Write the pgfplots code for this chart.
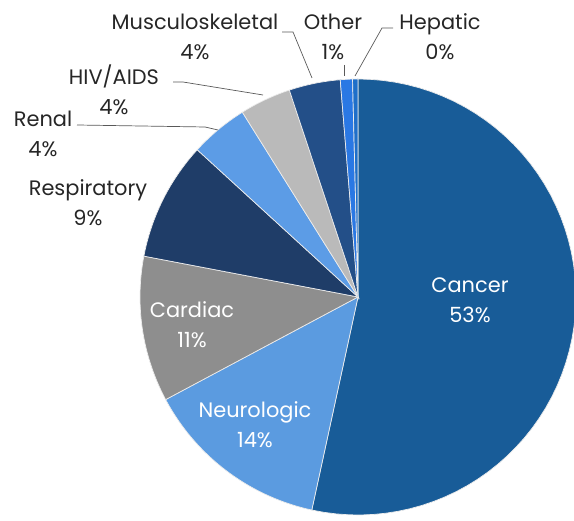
\documentclass[border=0pt]{standalone}
\usepackage{fontspec}
\setmainfont{Poppins}
\usepackage{pgfplots}
\usepackage{pgfplotstable}
\pgfplotsset{compat=1.18}

% slice shares in percent, clockwise from 12 o'clock
\pgfplotstableread{
label value
Cancer 53.4
Neurologic 13.8
Cardiac 10.8
Respiratory 8.8
Renal 4.3
HIV/AIDS 3.8
Musculoskeletal 3.8
Other 0.9
Hepatic 0.4
}\piedata

\definecolor{col0}{HTML}{185C98}
\definecolor{col1}{HTML}{5B9BE0}
\definecolor{col2}{HTML}{8E8E8E}
\definecolor{col3}{HTML}{1F3D68}
\definecolor{col4}{HTML}{5C9CE6}
\definecolor{col5}{HTML}{BABABA}
\definecolor{col6}{HTML}{234F88}
\definecolor{col7}{HTML}{2A78E4}
\definecolor{col8}{HTML}{1F6FC9}
\definecolor{txt}{HTML}{262626}
\definecolor{lead}{HTML}{595959}

% cumulative angles
\def\cum{90}
\pgfplotsforeachungrouped \i in {0,...,8}{%
  \pgfplotstablegetelem{\i}{value}\of\piedata
  \pgfmathsetmacro\newcum{\cum-3.6*\pgfplotsretval}%
  \expandafter\xdef\csname end\i\endcsname{\cum}%
  \expandafter\xdef\csname start\i\endcsname{\newcum}%
  \xdef\cum{\newcum}%
}

\begin{document}
\begin{tikzpicture}
\begin{axis}[
    scale only axis,
    width=574bp, height=521bp,
    xmin=-358, xmax=216, ymin=-224, ymax=297,
    hide axis, clip=false,
    font=\fontsize{21}{30}\selectfont,
]
\pgfplotsinvokeforeach{0,...,8}{
  \addplot[fill=col#1, draw=white!85!gray, line width=0.7pt, data cs=polar,
           domain=\csname start#1\endcsname:\csname end#1\endcsname, samples=60]
    (x,218) -- (axis cs:0,0) -- cycle;
}
% inside labels
\node[white, align=center] at (axis cs:112,-3) {Cancer\\53\%};
\node[white, align=center] at (axis cs:-166,-28) {Cardiac\\11\%};
\node[white, align=center] at (axis cs:-103,-128) {Neurologic\\14\%};
% outside labels
\node[txt, align=center] at (axis cs:-270,94) {Respiratory\\9\%};
\node[txt, align=center] at (axis cs:-315,163) {Renal\\4\%};
\node[txt, align=center] at (axis cs:-244,207) {HIV/AIDS\\4\%};
\node[txt, align=center] at (axis cs:-163,260) {Musculoskeletal\\4\%};
\node[txt, align=center] at (axis cs:-25,260) {Other\\1\%};
\node[txt, align=center] at (axis cs:82,260) {Hepatic\\0\%};
% leader lines
\draw[lead, line width=0.7pt] (axis cs:-281,172) -- (axis cs:-153,170) -- (axis cs:-140,167);
\draw[lead, line width=0.7pt] (axis cs:-185,215) -- (axis cs:-175,215) -- (axis cs:-95,202);
\draw[lead, line width=0.7pt] (axis cs:-76,265) -- (axis cs:-65,265) -- (axis cs:-46,219);
\draw[lead, line width=0.7pt] (axis cs:-14,232) -- (axis cs:-14,221);
\draw[lead, line width=0.7pt] (axis cs:35,269) -- (axis cs:24,269) -- (axis cs:-3,221);
\end{axis}
\pgfresetboundingbox
\path (current axis.south west) rectangle (current axis.north east);
\end{tikzpicture}
\end{document}
